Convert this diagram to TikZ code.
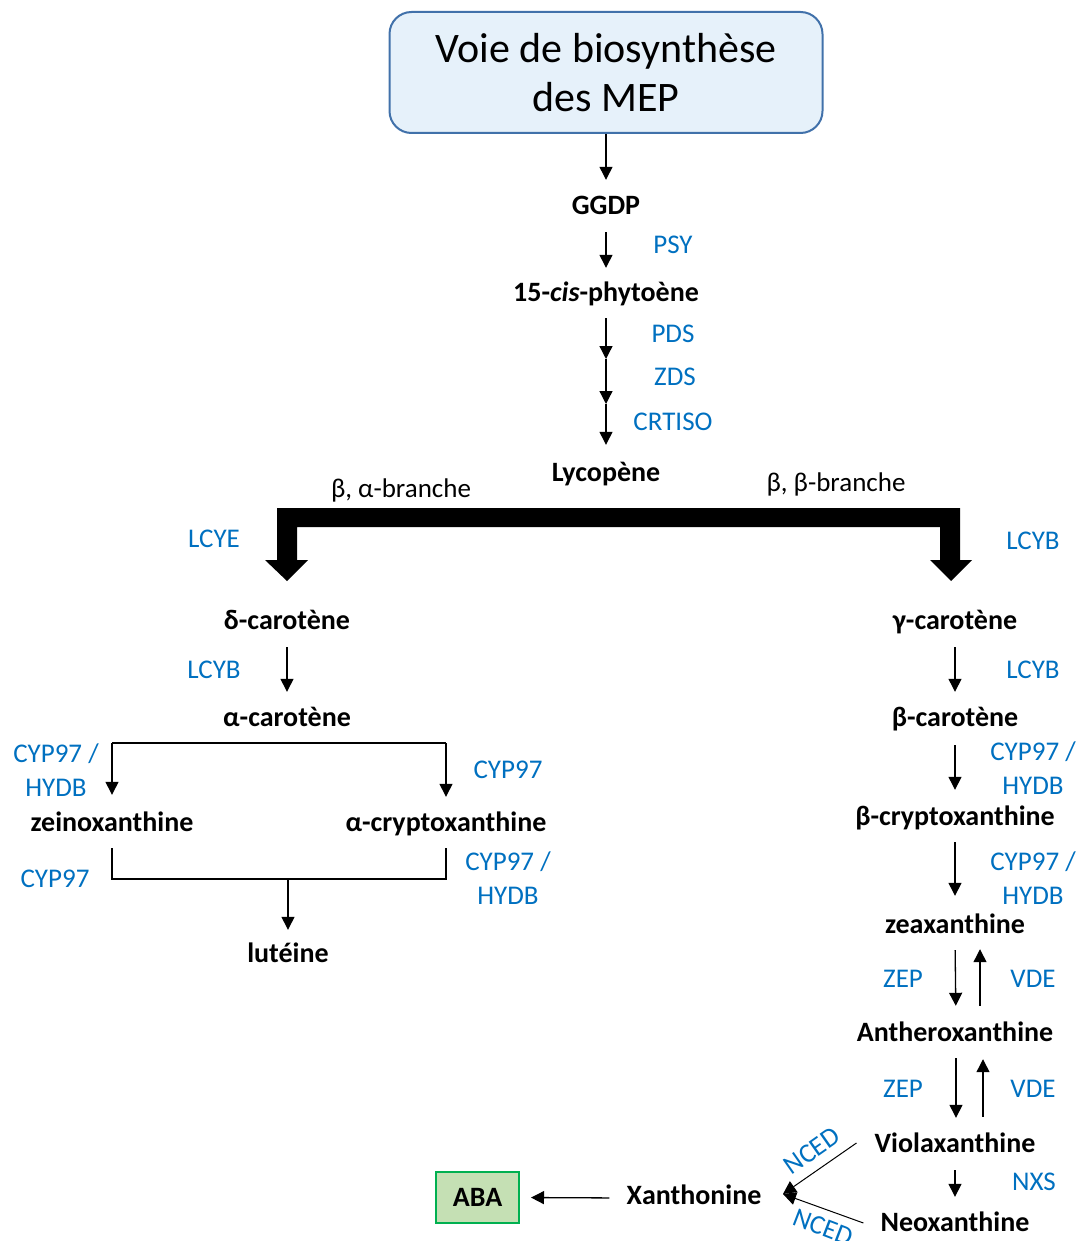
\documentclass[tikz,border=0pt]{standalone}
\usepackage{fontspec}
\setmainfont{Carlito}
\usetikzlibrary{arrows.meta}
\definecolor{lblblue}{RGB}{0,112,192}
\definecolor{titlefill}{RGB}{230,241,250}
\definecolor{titleborder}{RGB}{65,113,170}
\definecolor{abafill}{RGB}{197,224,180}
\definecolor{ababorder}{RGB}{0,176,80}
\begin{document}
\begin{tikzpicture}[x=1pt,y=-1pt,
  mol/.style={font=\fontsize{28}{32}\selectfont\bfseries, inner sep=0pt, text height=18pt, text depth=6pt},
  brlabel/.style={font=\fontsize{27}{32}\selectfont, inner sep=0pt, text height=18pt, text depth=6pt},
  enz/.style={font=\fontsize{27}{34}\selectfont, text=lblblue, inner sep=0pt, align=center},
  arr/.style={-{Triangle[width=13pt,length=13pt]}, line width=1.3pt},
  ln/.style={line width=1.3pt}]
\useasboundingbox (0,0) rectangle (1082,1241);

% title box
\node[draw=titleborder, line width=2pt, fill=titlefill, rounded corners=22pt,
      minimum width=433pt, minimum height=121pt, align=center,
      font=\fontsize{42}{49}\selectfont, inner sep=0pt] (title) at (606,72.5)
      {Voie de biosynthèse\\des MEP};

% molecules
\node[mol] (ggdp) at (606,209) {GGDP};
\node[mol] (phyt) at (606,295) {15-\textit{cis}-phytoène};
\node[mol] (lyco) at (606,475) {Lycopène};
\node[mol] (delta) at (287,623) {δ-carotène};
\node[mol] (gamma) at (955,623) {γ-carotène};
\node[mol] (alpha) at (287,720) {α-carotène};
\node[mol] (beta) at (955,720) {β-carotène};
\node[mol] (zein) at (112,825) {zeinoxanthine};
\node[mol] (acry) at (446,825) {α-cryptoxanthine};
\node[mol] (lut) at (288,956) {lutéine};
\node[mol] (bcry) at (955,819) {β-cryptoxanthine};
\node[mol] (zea) at (955,927) {zeaxanthine};
\node[mol] (anth) at (955,1035) {Antheroxanthine};
\node[mol] (viol) at (955,1146) {Violaxanthine};
\node[mol] (neo) at (955,1225) {Neoxanthine};
\node[mol] (xan) at (694,1198) {Xanthonine};
\node[draw=ababorder, fill=abafill, line width=2pt, minimum width=83pt, minimum height=51pt,
      font=\fontsize{28}{32}\selectfont\bfseries, inner sep=0pt] (aba) at (477.5,1197.5) {ABA};

% branch labels
\node[brlabel] (bal) at (401,491) {β, α-branche};
\node[brlabel] (bbl) at (836,485) {β, β-branche};

% enzymes
\node[enz] (psy) at (673,245) {PSY};
\node[enz] (pds) at (673,334) {PDS};
\node[enz] (zds) at (675,377) {ZDS};
\node[enz] (crtiso) at (673,422) {CRTISO};
\node[enz] (lcye) at (214,539) {LCYE};
\node[enz] (lcyb1) at (1033,541) {LCYB};
\node[enz] (lcyb2) at (214,670) {LCYB};
\node[enz] (lcyb3) at (1033,670) {LCYB};
\node[enz] (cypa) at (56,770) {CYP97 /\\HYDB};
\node[enz] (cypb) at (508,770) {CYP97};
\node[enz] (cypc) at (55,879) {CYP97};
\node[enz] (cypd) at (508,878) {CYP97 /\\HYDB};
\node[enz] (cype) at (1033,768) {CYP97 /\\HYDB};
\node[enz] (cypf) at (1033,878) {CYP97 /\\HYDB};
\node[enz] (zep1) at (903,979) {ZEP};
\node[enz] (vde1) at (1033,979) {VDE};
\node[enz] (zep2) at (903,1089) {ZEP};
\node[enz] (vde2) at (1033,1089) {VDE};
\node[enz] (nxs) at (1034,1182) {NXS};
\node[enz, rotate=35] (nced1) at (812,1151) {NCED};
\node[enz, rotate=-21] (nced2) at (823,1227) {NCED};

% main chain
\draw[arr, shorten >=17pt] (title.south) -- (ggdp.north);
\draw[arr, shorten <=11pt, shorten >=15pt] (ggdp.south) -- (phyt.north);
\coordinate (m1) at (606,359);
\coordinate (m2) at (606,404);
\draw[arr, shorten <=11pt] (phyt.south) -- (m1);
\draw[arr] (m1) -- (m2);
\draw[arr, shorten >=18pt] (m2) -- (lyco.north);

% thick bracket
\fill (277,508) -- (960,508) -- (960,560) -- (972,560) -- (951,581) -- (930,560)
   -- (940,560) -- (940,527) -- (297,527) -- (297,560) -- (308,560) -- (287,581)
   -- (265,560) -- (277,560) -- cycle;

% alpha branch
\draw[arr, shorten <=12pt, shorten >=16pt] (delta.south) -- (alpha.north);
\coordinate (sL) at (112,743);
\coordinate (sR) at (446,743);
\draw[ln] (sL) -- (sR);
\draw[arr, shorten >=18pt] (sL) -- (zein.north);
\draw[arr, shorten >=16pt] (sR) -- (acry.north);
\coordinate (mL) at (112,879);
\coordinate (mR) at (446,879);
\coordinate (mC) at (288,879);
\draw[ln, shorten <=11pt, shorten >=11pt] (zein.south) -- (mL) -- (mR) -- (acry.south);
\draw[arr, shorten >=14pt] (mC) -- (lut.north);

% beta branch
\draw[arr, shorten <=12pt, shorten >=16pt] (gamma.south) -- (beta.north);
\draw[arr, shorten <=13pt, shorten >=17pt] (beta.south) -- (bcry.north);
\draw[arr, shorten <=11pt, shorten >=19pt] (bcry.south) -- (zea.north);
\draw[arr, shorten <=11pt, shorten >=17pt] (zea.south) -- ([xshift=1pt]anth.north);
\draw[arr, shorten <=17pt, shorten >=10pt] ([xshift=25pt]anth.north) -- ([xshift=25pt]zea.south);
\draw[arr, shorten <=11pt, shorten >=16pt] ([xshift=1pt]anth.south) -- ([xshift=1pt]viol.north);
\draw[arr, shorten <=17pt, shorten >=12pt] ([xshift=28pt]viol.north) -- ([xshift=28pt]anth.south);
\draw[arr, shorten <=12pt, shorten >=16pt] (viol.south) -- (neo.north);

% to xanthonine and ABA
\coordinate (xt) at (783,1194);
\draw[line width=1pt, -{Triangle[width=13pt,length=13pt]}] ([shift={(-18pt,3pt)}]viol.west) -- (xt);
\draw[line width=1pt, -{Triangle[width=13pt,length=13pt]}] ([shift={(-17pt,2pt)}]neo.west) -- (xt);
\draw[arr, shorten <=17pt, shorten >=11pt] (xan.west) -- (aba.east);
\end{tikzpicture}
\end{document}
